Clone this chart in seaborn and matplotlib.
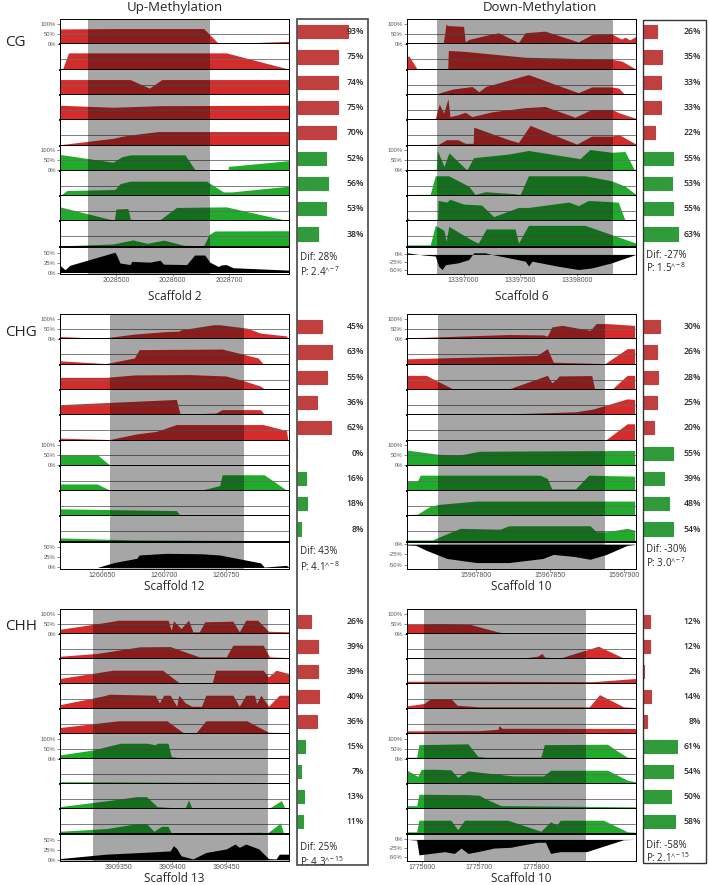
import numpy as np
import pandas as pd
import matplotlib.pyplot as plt
from matplotlib.patches import Rectangle
import seaborn as sns

sns.set_theme(style="white")
plt.rcParams['font.family'] = ['Open Sans', 'DejaVu Sans']
plt.rcParams['mathtext.default'] = 'regular'

# ---- data: (position, % methylation) per track ----
# 5 "methylated" samples (red) then 4 "unmethylated" samples (green), then the difference

cg_up_tracks = [
    [(2028401, 75), (2028500, 77), (2028655, 77), (2028681, 3), (2028700, 2), (2028806, 13)],
    [(2028401, 0), (2028406, 4), (2028416, 82), (2028695, 82), (2028806, 0)],
    [(2028401, 75), (2028525, 75), (2028559, 32), (2028581, 75), (2028806, 75)],
    [(2028401, 73), (2028495, 63), (2028580, 71), (2028806, 73)],
    [(2028401, 2), (2028495, 34), (2028510, 44), (2028540, 56), (2028575, 68), (2028806, 68)],
    [(2028401, 80), (2028495, 41), (2028510, 68), (2028525, 78), (2028622, 78), (2028640, 2),
     (2028698, 2), (2028699, 20), (2028806, 49)],
    [(2028401, 0), (2028413, 26), (2028498, 31), (2028507, 60), (2028525, 73), (2028660, 73),
     (2028690, 19), (2028705, 19), (2028806, 48)],
    [(2028401, 71), (2028497, 3), (2028500, 60), (2028521, 63), (2028526, 3), (2028578, 7),
     (2028607, 68), (2028695, 71), (2028806, 0)],
    [(2028401, 2), (2028495, 12), (2028530, 32), (2028555, 15), (2028585, 31), (2028620, 5),
     (2028655, 3), (2028665, 60), (2028675, 77), (2028806, 78)],
]
cg_up_diff = [(2028401, 18), (2028410, 7), (2028418, 18), (2028498, 51), (2028501, 44), (2028507, 24),
              (2028525, 20), (2028528, 28), (2028560, 26), (2028578, 31), (2028584, 21), (2028625, 20),
              (2028639, 44), (2028657, 44), (2028666, 26), (2028681, 15), (2028686, 19), (2028695, 20),
              (2028707, 12), (2028806, 6)]

cg_down_tracks = [
    [(13396500, 1), (13396820, 2), (13396845, 100), (13396860, 92), (13397000, 88), (13397015, 10),
     (13397044, 22), (13397220, 46), (13397309, 56), (13397485, 7), (13397544, 56), (13397720, 64),
     (13398014, 10), (13398132, 46), (13398308, 50), (13398396, 24), (13398426, 34), (13398470, 20),
     (13398524, 38)],
    [(13396500, 60), (13396515, 68), (13396590, 0), (13396860, 0), (13396865, 94), (13397000, 90),
     (13397544, 60), (13398308, 50), (13398400, 40), (13398524, 0)],
    [(13396500, 1), (13396765, 4), (13396900, 27), (13397075, 40), (13397135, 14), (13397195, 40),
     (13397573, 100), (13398014, 9), (13398132, 38), (13398308, 38), (13398370, 32), (13398426, 0),
     (13398524, 0)],
    [(13396500, 4), (13396750, 6), (13396785, 79), (13396825, 34), (13396862, 106), (13396880, 16),
     (13396950, 25), (13397015, 38), (13397073, 16), (13397250, 40), (13397544, 61), (13397720, 67),
     (13397985, 13), (13398132, 52), (13398308, 52), (13398380, 34), (13398524, 7)],
    [(13396500, 2), (13396780, 4), (13396850, 27), (13396950, 27), (13397015, 9), (13397085, 9),
     (13397090, 90), (13397400, 27), (13397485, 13), (13397588, 99), (13398000, 5), (13398132, 45),
     (13398308, 45), (13398370, 54), (13398524, 5)],
    [(13396500, 4), (13396760, 5), (13396768, 100), (13396827, 20), (13396871, 88), (13397029, 2),
     (13397088, 64), (13397397, 82), (13397573, 100), (13398029, 59), (13398117, 105), (13398308, 91),
     (13398426, 95), (13398508, 5), (13398524, 5)],
    [(13396500, 6), (13396705, 7), (13396750, 100), (13396868, 100), (13397044, 48), (13397103, 6),
     (13397191, 20), (13397455, 10), (13397500, 6), (13397573, 100), (13398073, 100), (13398308, 75),
     (13398426, 48), (13398524, 6)],
    [(13396500, 22), (13396520, 4), (13396770, 5), (13396775, 103), (13396850, 95), (13396880, 109),
     (13397000, 85), (13397160, 80), (13397265, 22), (13397485, 68), (13397573, 68), (13397930, 95),
     (13398014, 77), (13398103, 103), (13398367, 95), (13398426, 5), (13398524, 5)],
    [(13396500, 7), (13396705, 7), (13396750, 105), (13396827, 80), (13396845, 25), (13396870, 100),
     (13397065, 34), (13397130, 16), (13397200, 87), (13397455, 87), (13397485, 16), (13397573, 105),
     (13398073, 105), (13398524, 16)],
]
cg_down_diff = [(13396500, 5), (13396650, -2), (13396750, -5), (13396780, -37), (13396810, -47),
                (13396840, -32), (13396955, -26), (13397045, -16), (13397090, 5), (13397190, 5),
                (13397250, 0), (13397545, -21), (13397575, -36), (13397605, -21), (13397840, -37),
                (13398015, -47), (13398135, -42), (13398310, -26), (13398524, 0)]

chg_up_tracks = [
    [(1260616, 12), (1260649, 3), (1260676, 24), (1260702, 37), (1260712, 39), (1260714, 46),
     (1260740, 71), (1260745, 71), (1260767, 54), (1260778, 29), (1260799, 15), (1260800, 0)],
    [(1260616, 17), (1260653, 3), (1260676, 31), (1260680, 73), (1260747, 76), (1260771, 39),
     (1260776, 31), (1260780, 3), (1260801, 2)],
    [(1260616, 61), (1260653, 61), (1260676, 73), (1260720, 75), (1260750, 68), (1260765, 43),
     (1260778, 17), (1260781, 3), (1260801, 3)],
    [(1260616, 51), (1260710, 77), (1260713, 3), (1260742, 9), (1260747, 26), (1260778, 26),
     (1260781, 3), (1260801, 3)],
    [(1260616, 10), (1260656, 3), (1260678, 31), (1260694, 44), (1260710, 78), (1260780, 78),
     (1260799, 48), (1260800, 0)],
    [(1260616, 54), (1260646, 54), (1260656, 3), (1260801, 1)],
    [(1260616, 34), (1260646, 34), (1260656, 3), (1260730, 2), (1260745, 26), (1260747, 80),
     (1260781, 80), (1260799, 3), (1260801, 0)],
    [(1260616, 36), (1260710, 27), (1260713, 3), (1260801, 2)],
    [(1260616, 17), (1260676, 7), (1260801, 3)],
]
chg_up_diff = [(1260616, 0), (1260646, 0), (1260660, 12), (1260678, 22), (1260680, 30), (1260702, 34),
               (1260730, 33), (1260745, 30), (1260778, 11), (1260781, 1), (1260799, 5), (1260801, 0)]

chg_down_tracks = [
    [(15967753, 5), (15967822, 22), (15967845, 20), (15967848, 14), (15967851, 60), (15967858, 68),
     (15967877, 43), (15967881, 77), (15967888, 77), (15967907, 68)],
    [(15967753, 27), (15967841, 44), (15967848, 78), (15967852, 10), (15967887, 3), (15967902, 78),
     (15967907, 78)],
    [(15967753, 71), (15967766, 71), (15967784, 3), (15967822, 3), (15967848, 71), (15967851, 34),
     (15967854, 51), (15967856, 68), (15967878, 70), (15967880, 3), (15967892, 3), (15967902, 71),
     (15967907, 71)],
    [(15967753, 2), (15967822, 5), (15967845, 10), (15967867, 15), (15967879, 29), (15967902, 80),
     (15967907, 77)],
    [(15967753, 2), (15967888, 3), (15967902, 82), (15967907, 82)],
    [(15967753, 77), (15967774, 56), (15967788, 51), (15967802, 71), (15967907, 75)],
    [(15967753, 48), (15967760, 48), (15967762, 78), (15967843, 78), (15967848, 61), (15967851, 9),
     (15967867, 9), (15967876, 78), (15967907, 73)],
    [(15967753, 7), (15967760, 9), (15967768, 46), (15967774, 58), (15967800, 75), (15967907, 75)],
    [(15967753, 7), (15967770, 7), (15967789, 65), (15967816, 61), (15967822, 78), (15967877, 78),
     (15967881, 48), (15967888, 48), (15967902, 65), (15967907, 56)],
]
chg_down_diff = [(15967753, -2), (15967759, -3), (15967766, -15), (15967780, -35), (15967800, -45),
                 (15967822, -45), (15967845, -35), (15967852, -25), (15967866, -30), (15967877, -37),
                 (15967888, -25), (15967902, -3), (15967907, -1)]

chh_up_tracks = [
    [(3909296, 22), (3909342, 60), (3909350, 68), (3909396, 68), (3909399, 17), (3909401, 65),
     (3909408, 26), (3909415, 68), (3909419, 9), (3909425, 9), (3909430, 60), (3909456, 63),
     (3909462, 9), (3909468, 68), (3909479, 68), (3909489, 12), (3909508, 9)],
    [(3909296, 12), (3909330, 26), (3909370, 60), (3909398, 61), (3909416, 26), (3909425, 9),
     (3909450, 9), (3909456, 68), (3909484, 68), (3909490, 9), (3909508, 5)],
    [(3909296, 26), (3909345, 68), (3909391, 68), (3909406, 5), (3909437, 5), (3909440, 68),
     (3909484, 68), (3909489, 34), (3909496, 68), (3909508, 51)],
    [(3909296, 20), (3909335, 63), (3909342, 73), (3909384, 68), (3909388, 29), (3909392, 68),
     (3909398, 68), (3909404, 12), (3909406, 68), (3909412, 29), (3909418, 12), (3909427, 12),
     (3909431, 68), (3909456, 68), (3909462, 12), (3909468, 68), (3909476, 68), (3909478, 26),
     (3909482, 68), (3909489, 12), (3909499, 68), (3909508, 68)],
    [(3909296, 31), (3909342, 60), (3909350, 65), (3909395, 65), (3909410, 5), (3909422, 5),
     (3909431, 65), (3909469, 65), (3909489, 7), (3909508, 5)],
    [(3909296, 19), (3909327, 44), (3909342, 65), (3909352, 78), (3909377, 78), (3909384, 70),
     (3909386, 78), (3909396, 78), (3909399, 10), (3909410, 3), (3909508, 3)],
    [(3909296, 10), (3909400, 7), (3909508, 5)],
    [(3909296, 10), (3909345, 44), (3909367, 61), (3909376, 61), (3909386, 10), (3909400, 5),
     (3909412, 5), (3909415, 44), (3909418, 3), (3909490, 3), (3909501, 41), (3909504, 3),
     (3909508, 3)],
    [(3909296, 12), (3909340, 26), (3909367, 51), (3909376, 51), (3909383, 12), (3909390, 37),
     (3909396, 37), (3909399, 3), (3909482, 7), (3909488, 3), (3909500, 54), (3909503, 2),
     (3909508, 2)],
]
chh_up_diff = [(3909296, 3), (3909339, 14), (3909370, 18), (3909398, 22), (3909401, 35), (3909404, 28),
               (3909408, 10), (3909419, 2), (3909431, 18), (3909450, 27), (3909458, 39), (3909462, 31),
               (3909468, 39), (3909480, 27), (3909489, 3), (3909496, 2), (3909499, 14), (3909508, 14)]

chh_down_tracks = [
    [(1775573, 48), (1775639, 51), (1775685, 46), (1775732, 9), (1775744, 3), (1775813, 5),
     (1775912, 3), (1775975, 0)],
    [(1775573, 0), (1775773, 2), (1775802, 12), (1775810, 26), (1775815, 7), (1775842, 3),
     (1775909, 63), (1775953, 3), (1775975, 0)],
    [(1775573, 12), (1775700, 12), (1775900, 10), (1775975, 26)],
    [(1775573, 14), (1775603, 26), (1775615, 51), (1775650, 51), (1775661, 17), (1775700, 9),
     (1775893, 9), (1775911, 71), (1775953, 9), (1775975, 5)],
    [(1775573, 14), (1775700, 15), (1775733, 22), (1775734, 41), (1775740, 27), (1775975, 26)],
    [(1775573, 7), (1775590, 7), (1775594, 71), (1775680, 75), (1775697, 12), (1775710, 7),
     (1775808, 7), (1775814, 71), (1775925, 73), (1775940, 43), (1775960, 7), (1775975, 5)],
    [(1775573, 68), (1775592, 37), (1775598, 73), (1775623, 73), (1775650, 70), (1775662, 32),
     (1775680, 65), (1775720, 51), (1775760, 39), (1775813, 39), (1775825, 68), (1775925, 68),
     (1775960, 17), (1775975, 9)],
    [(1775573, 15), (1775590, 15), (1775594, 73), (1775680, 71), (1775700, 68), (1775710, 51),
     (1775738, 15), (1775975, 9)],
    [(1775573, 9), (1775590, 9), (1775594, 68), (1775650, 68), (1775662, 20), (1775674, 68),
     (1775750, 68), (1775808, 12), (1775825, 60), (1775836, 43), (1775842, 68), (1775918, 68),
     (1775960, 9), (1775975, 7)],
]
chh_down_diff = [(1775573, 0), (1775590, -2), (1775594, -43), (1775639, -34), (1775656, -39),
                 (1775668, -24), (1775680, -39), (1775697, -34), (1775726, -24), (1775755, -22),
                 (1775767, -18), (1775802, -8), (1775816, -8), (1775825, -39), (1775842, -34),
                 (1775888, -34), (1775900, -28), (1775953, -1), (1775975, 0)]

# mean methylation per sample (bars), difference and p-value text
cg_up_bars = [93, 75, 74, 75, 70, 52, 56, 53, 38]
cg_down_bars = [26, 35, 33, 33, 22, 55, 53, 55, 63]
chg_up_bars = [45, 63, 55, 36, 62, 0, 16, 18, 8]
chg_down_bars = [30, 26, 28, 25, 20, 55, 39, 48, 54]
chh_up_bars = [26, 39, 39, 40, 36, 15, 7, 13, 11]
chh_down_bars = [12, 12, 2, 14, 8, 61, 54, 50, 58]

dif_labels = ['Dif: 28%', 'Dif: -27%', 'Dif: 43%', 'Dif: -30%', 'Dif: 25%', 'Dif: -58%']
p_labels = [r'P: 2.4$^{\wedge\!-7}$', r'P: 1.5$^{\wedge\!-8}$', r'P: 4.1$^{\wedge\!-8}$',
            r'P: 3.0$^{\wedge\!-7}$', r'P: 4.3$^{\wedge\!-15}$', r'P: 2.1$^{\wedge\!-15}$']
scaffolds = ['Scaffold 2', 'Scaffold 6', 'Scaffold 12', 'Scaffold 10', 'Scaffold 13', 'Scaffold 10']
dmr_regions = [(2028451, 2028667), (13396765, 13398318), (1260656, 1260765),
               (15967774, 15967887), (3909327, 3909489), (1775602, 1775888)]
window = [(2028401, 2028806), (13396500, 13398524), (1260616, 1260801),
          (15967753, 15967908), (3909296, 3909508), (1775573, 1775975)]
pos_ticks = [[2028500, 2028600, 2028700], [13397000, 13397500, 13398000],
             [1260650, 1260700, 1260750], [15967800, 15967850, 15967900],
             [3909350, 3909400, 3909450], [1775600, 1775700, 1775800]]
contexts = ['CG', 'CHG', 'CHH']
columns = ['Up-Methylation', 'Down-Methylation']

all_tracks = [cg_up_tracks, cg_down_tracks, chg_up_tracks, chg_down_tracks, chh_up_tracks, chh_down_tracks]
all_diff = [cg_up_diff, cg_down_diff, chg_up_diff, chg_down_diff, chh_up_diff, chh_down_diff]
all_bars = [cg_up_bars, cg_down_bars, chg_up_bars, chg_down_bars, chh_up_bars, chh_down_bars]

# ---- style / layout (pixels) ----
RED = '#d52b2b'
GREEN = '#20ab2b'
SHADE = dict(color='black', alpha=0.35, lw=0)
TICKC = '#555555'
W, H = 709, 885
col_x = [60, 407]
plot_w = 229
row_top = [19, 314, 609]
row_track_h = [25.3, 25.3, 25.0]
diff_h = 27
scaffold_y = [296, 587, 879]
box_x = [297, 643]
box_w = [71, 64]
px_per_pct = 0.55
diff_lims = [(-3, 65), (-60, 24), (-3, 62), (-60, 6), (-3, 64), (-60, 15)]

fig = plt.figure(figsize=(W / 100, H / 100), dpi=100)


def px_axes(x, y, w, h):
    return fig.add_axes([x / W, 1 - (y + h) / H, w / W, h / H])


def frame(ax, top=False):
    for s in ax.spines.values():
        s.set_visible(True)
        s.set_color('black')
        s.set_linewidth(0.7)
    ax.spines['bottom'].set_linewidth(1.4)
    ax.spines['top'].set_visible(top)


for k in range(6):
    r, c = divmod(k, 2)
    x0, top = col_x[c], row_top[r]
    track_h = row_track_h[r]
    lo, hi = dmr_regions[k]

    for i, tr in enumerate(all_tracks[k]):
        ax = px_axes(x0, top + i * track_h, plot_w, track_h)
        pos, val = zip(*tr)
        ax.fill_between(pos, val, 0, color=RED if i < 5 else GREEN, lw=0, zorder=1)
        ax.axhline(50, color='#6a6a6a', lw=0.6, zorder=2)
        ax.axvspan(lo, hi, zorder=3, **SHADE)
        ax.set_xlim(window[k])
        ax.set_ylim(-2, 125)
        ax.set_xticks([])
        if i in (0, 5):
            ax.set_yticks([0, 50, 100])
            ax.set_yticklabels(['0%', '50%', '100%'], family='Liberation Sans')
            ax.tick_params(axis='y', left=True, length=2, width=0.5, color=TICKC,
                           labelsize=4.2, labelcolor=TICKC, pad=1)
        else:
            ax.set_yticks([])
        frame(ax, top=(i == 0))

    # difference track
    ax = px_axes(x0, top + 9 * track_h, plot_w, diff_h)
    pos, val = zip(*all_diff[k])
    ax.fill_between(pos, val, 0, color='black', lw=0, zorder=1)
    ax.axvspan(lo, hi, zorder=0, color='#a6a6a6', lw=0)
    ax.set_xlim(window[k])
    ax.set_ylim(diff_lims[k])
    dt = [0, 25, 50] if c == 0 else [0, -25, -50]
    ax.set_yticks(dt)
    ax.set_yticklabels([f'{v}%' for v in dt], family='Liberation Sans')
    ax.set_xticks(pos_ticks[k])
    ax.set_xticklabels([str(v) for v in pos_ticks[k]], family='Liberation Sans')
    ax.tick_params(axis='y', left=True, length=2, width=0.5, color=TICKC,
                   labelsize=4.2, labelcolor=TICKC, pad=1)
    ax.tick_params(axis='x', bottom=True, length=1.5, width=0.5, color=TICKC,
                   labelsize=5, labelcolor=TICKC, pad=1)
    frame(ax, top=True)
    ax.spines['bottom'].set_linewidth(0.7)

    # scaffold label
    fig.text((x0 + plot_w / 2) / W, 1 - scaffold_y[r] / H, scaffolds[k],
             ha='center', va='center', fontsize=8.5)

    # mean methylation bars
    bax = px_axes(box_x[c], top, box_w[c], 9 * track_h)
    df = pd.DataFrame({'sample': [f's{j}' for j in range(9)], 'pct': all_bars[k],
                       'group': ['meth'] * 5 + ['unmeth'] * 4})
    sns.barplot(data=df, x='pct', y='sample', hue='group', palette={'meth': RED, 'unmeth': GREEN},
                orient='y', width=0.52, dodge=False, legend=False, ax=bax)
    for p in bax.patches:
        p.set_edgecolor(p.get_facecolor())
        p.set_linewidth(0.8)
    bax.set_xlim(0, box_w[c] / px_per_pct)
    bax.set_ylim(8.5, -0.5)
    bax.set_axis_off()
    txt_x = (67 if c == 0 else 58) / px_per_pct
    for j, v in enumerate(all_bars[k]):
        bax.text(txt_x, j, f'{v}%', ha='right', va='center', fontsize=6.2, weight='semibold')

    dy = (238, 253) if c == 0 else (236, 249)
    fig.text((box_x[c] + 3) / W, 1 - (top + dy[0]) / H, dif_labels[k], ha='left', va='center', fontsize=7)
    fig.text((box_x[c] + 3) / W, 1 - (top + dy[1]) / H, p_labels[k], ha='left', va='center', fontsize=7)

# boxes around the bar columns
fig.add_artist(Rectangle((297 / W, 1 - 865 / H), 71 / W, (865 - 19) / H, transform=fig.transFigure,
                         fill=False, ec='#555555', lw=1.3))
fig.add_artist(Rectangle((643 / W, 1 - 863 / H), 63 / W, (863 - 20) / H, transform=fig.transFigure,
                         fill=False, ec='#333333', lw=1.0))

# headers
for c, name in enumerate(columns):
    fig.text([175, 540][c] / W, 1 - 7 / H, name, ha='center', va='center', fontsize=9.5)
for r, name in enumerate(contexts):
    fig.text(5 / W, 1 - [42, 333, 627][r] / H, name, ha='left', va='center', fontsize=11)

fig.savefig('out.png', dpi=100)
